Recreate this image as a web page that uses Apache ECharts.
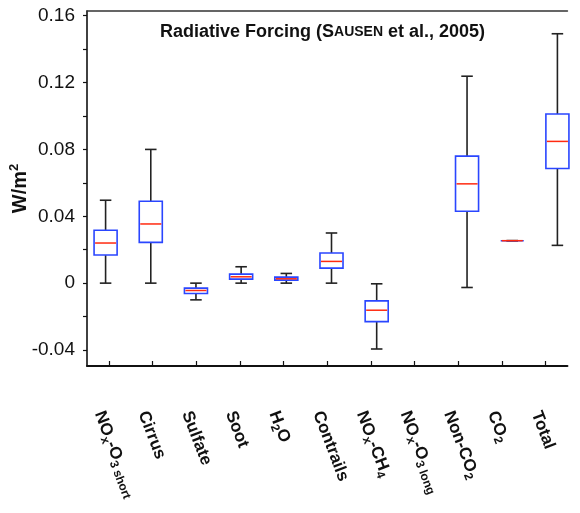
<!DOCTYPE html>
<html><head><meta charset="utf-8">
<script src="https://cdn.jsdelivr.net/npm/echarts@6/dist/echarts.min.js"></script>
<style>html,body{margin:0;padding:0;background:#fff}#c{width:580px;height:513px}</style>
</head><body><div id="c"></div>
<script>
const categories = ['NOx-O3 short','Cirrus','Sulfate','Soot','H2O','Contrails','NOx-CH4','NOx-O3 long','Non-CO2','CO2','Total'];
const categoryLabels = ['NO{s|x}-O{s|3 short}','Cirrus','Sulfate','Soot','H{s|2}O','Contrails','NO{s|x}-CH{s|4}','NO{s|x}-O{s|3 long}','Non-CO{s|2}','CO{s|2}','Total'];
const minVals = [0, 0, -0.010, 0, 0, 0, -0.0394, null, -0.0026, 0.0254, 0.0226];
const q1Vals  = [0.0168, 0.0244, -0.0062, 0.0024, 0.0018, 0.009, -0.023, null, 0.043, 0.0254, 0.0686];
const medVals = [0.024, 0.0354, -0.0044, 0.0038, 0.0026, 0.013, -0.0162, null, 0.0594, 0.0254, 0.0848];
const q3Vals  = [0.0316, 0.049, -0.003, 0.0054, 0.0036, 0.018, -0.0106, null, 0.076, 0.0254, 0.1012];
const maxVals = [0.0496, 0.080, 0, 0.0098, 0.0058, 0.030, -0.0004, null, 0.1238, 0.0254, 0.1492];
const yTickLabels = ['-0.04','0','0.04','0.08','0.12','0.16'];

const FONT = 'Liberation Sans, Arial, Helvetica, sans-serif';
const data = [];
categories.forEach((c, i) => {
  if (minVals[i] === null) return;
  data.push([i, minVals[i], q1Vals[i], medVals[i], q3Vals[i], maxVals[i]]);
});

function renderItem(params, api) {
  const x = api.value(0);
  const pMin = api.coord([x, api.value(1)]);
  const pQ1 = api.coord([x, api.value(2)]);
  const pMed = api.coord([x, api.value(3)]);
  const pQ3 = api.coord([x, api.value(4)]);
  const pMax = api.coord([x, api.value(5)]);
  const band = api.size([1, 0])[0];
  const bw = band * 0.51;
  const cw = bw * 0.5;
  const cx = pMed[0];
  const wStyle = {stroke: '#222', lineWidth: 1.6};
  return {
    type: 'group',
    children: [
      {type: 'line', shape: {x1: cx, y1: pMin[1], x2: cx, y2: pQ1[1]}, style: wStyle},
      {type: 'line', shape: {x1: cx, y1: pQ3[1], x2: cx, y2: pMax[1]}, style: wStyle},
      {type: 'line', shape: {x1: cx - cw/2, y1: pMin[1], x2: cx + cw/2, y2: pMin[1]}, style: wStyle},
      {type: 'line', shape: {x1: cx - cw/2, y1: pMax[1], x2: cx + cw/2, y2: pMax[1]}, style: wStyle},
      {type: 'rect', shape: {x: cx - bw/2, y: pQ3[1], width: bw, height: pQ1[1] - pQ3[1]},
        style: {fill: '#fff', stroke: '#2a46ff', lineWidth: 1.6}},
      {type: 'line', shape: {x1: cx - bw/2 + 1, y1: pMed[1], x2: cx + bw/2 - 1, y2: pMed[1]},
        style: {stroke: '#ff2a10', lineWidth: 1.5}}
    ]
  };
}

const chart = echarts.init(document.getElementById('c'), null, {renderer: 'canvas'});
const gridW = 499.4;
chart.setOption({
  animation: false,
  backgroundColor: '#fff',
  title: {
    left: 155, top: 16,
    text: '{b|Radiative Forcing (}{b|S}{sc|AUSEN}{b| et al., 2005)}',
    textStyle: {
      rich: {
        b: {fontSize: 18, fontWeight: 'bold', fontFamily: FONT, color: '#111', lineHeight: 22},
        sc: {fontSize: 14, fontWeight: 'bold', fontFamily: FONT, color: '#111', lineHeight: 22}
      }
    }
  },
  grid: [
    {left: 83, top: 11, width: gridW, height: 355},
    {left: 83, top: 15.7, width: gridW, height: 334.3}
  ],
  xAxis: [
    {
      type: 'category', gridIndex: 0, data: categories, position: 'bottom',
      axisLine: {show: true, lineStyle: {color: '#111', width: 2}},
      axisTick: {show: true, inside: true, alignWithLabel: true, length: 5, lineStyle: {color: '#111', width: 1.2}},
      axisLabel: {
        rotate: -69, margin: 42, interval: 0,
        formatter: (v, i) => categoryLabels[i],
        fontFamily: FONT, fontWeight: 'bold', fontSize: 17, color: '#111', lineHeight: 22,
        padding: [21, 0, 0, 0],
        rich: {
          s: {fontSize: 12, fontWeight: 'bold', fontFamily: FONT, color: '#111', lineHeight: 12, verticalAlign: 'bottom'}
        }
      }
    },
    {
      type: 'category', gridIndex: 0, data: categories, position: 'top',
      axisLine: {show: true, lineStyle: {color: '#333', width: 1.5}},
      axisTick: {show: false}, axisLabel: {show: false}
    },
    {
      type: 'category', gridIndex: 1, data: categories, show: false
    }
  ],
  yAxis: [
    {
      type: 'value', gridIndex: 0, min: 0, max: 1,
      axisLine: {show: true, lineStyle: {color: '#111', width: 1.6}},
      axisTick: {show: false}, axisLabel: {show: false}, splitLine: {show: false},
      name: '{a|W/m}{p|2}', nameLocation: 'middle', nameGap: 55,
      nameTextStyle: {
        rich: {
          a: {fontSize: 20, fontWeight: 'bold', fontFamily: FONT, color: '#111', lineHeight: 24},
          p: {fontSize: 13, fontWeight: 'bold', fontFamily: FONT, color: '#111', lineHeight: 13, verticalAlign: 'top'}
        }
      }
    },
    {
      type: 'value', gridIndex: 1, min: -0.04, max: 0.16, interval: 0.02,
      axisLine: {show: false},
      axisTick: {show: true, inside: true, length: 4, lineStyle: {color: '#111', width: 1.2}},
      splitLine: {show: false},
      axisLabel: {
        margin: 8, fontFamily: FONT, fontSize: 19, color: '#111',
        formatter: v => {
          const k = Math.round(v / 0.04);
          if (Math.abs(v - k * 0.04) > 1e-6) return '';
          return yTickLabels[k + 1] || '';
        }
      }
    }
  ],
  series: [{
    type: 'custom', xAxisIndex: 2, yAxisIndex: 1, clip: false,
    renderItem: renderItem,
    encode: {x: 0, y: [1, 2, 3, 4, 5]},
    data: data
  }]
});
</script></body></html>
